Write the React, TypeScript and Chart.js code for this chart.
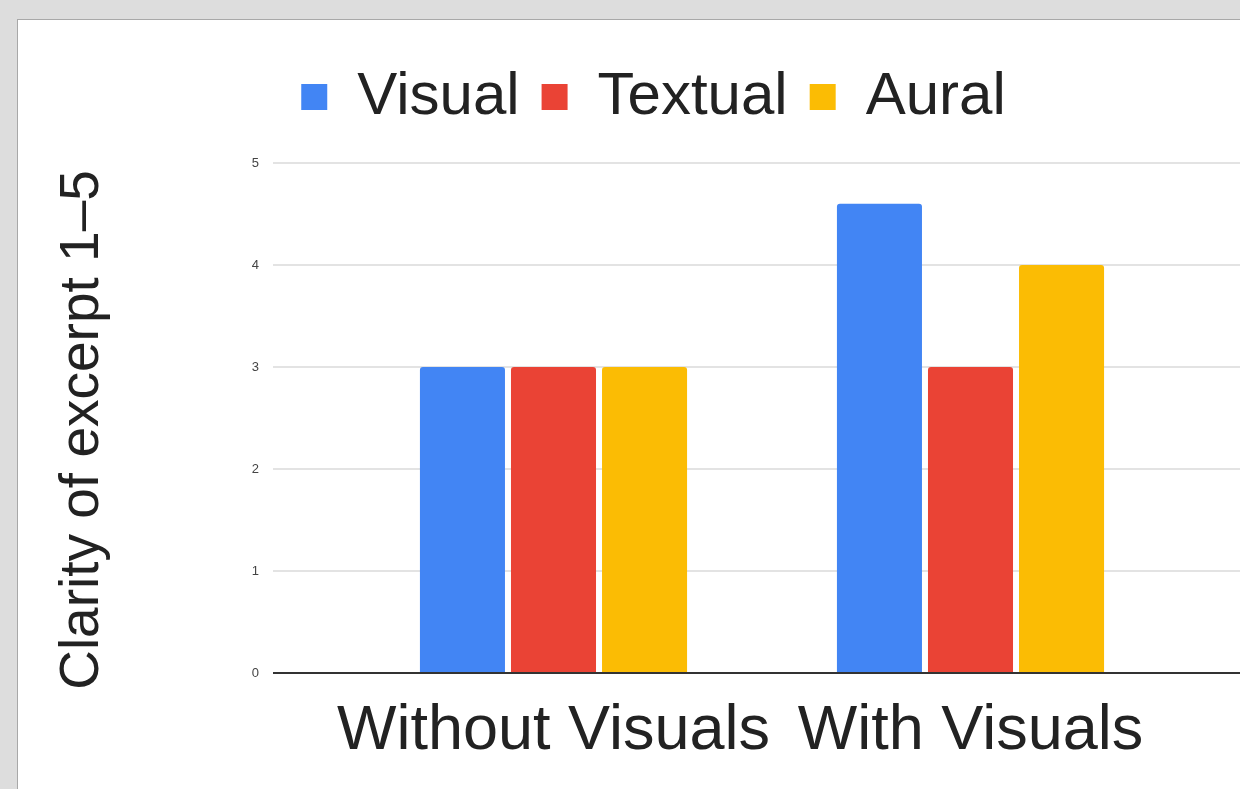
import { useEffect, useRef } from 'react';
import { Chart, registerables } from 'chart.js';

Chart.register(...registerables);

// ---- data ----
const CATEGORIES = ['Without Visuals', 'With Visuals'];
const SERIES_NAMES = ['Visual', 'Textual', 'Aural'];
const VISUAL = [3, 4.6];
const TEXTUAL = [3, 3];
const AURAL = [3, 4];
const Y_TICKS = [0, 1, 2, 3, 4, 5];
const Y_TITLE = 'Clarity of excerpt 1–5';

// ---- style / geometry ----
const COLORS = ['#4285F4', '#EA4335', '#FBBC04'];
const FONT = "'Liberation Sans', Arial, sans-serif";
const CANVAS_W = 1243;
const CANVAS_H = 769;
const AREA_LEFT = 255;
const AREA_BOTTOM = 653;
const PAD_LEFT = 28;
const PAD_TOP = 25;
const LEGEND_PAD = 22;
const LEGEND_EXTRA = 26;
const CAT0_PX = 535.5;
const CAT_STEP = 417;
const X_MIN = (AREA_LEFT - CAT0_PX) / CAT_STEP;
const X_MAX = (CANVAS_W - CAT0_PX) / CAT_STEP;
const TITLE_SHIFT = 12;

const layoutTweaks = {
  id: 'layoutTweaks',
  beforeLayout(chart: any) {
    const lg = chart.legend;
    if (lg && !lg._spaced) {
      const orig = lg.fit.bind(lg);
      lg.fit = () => {
        orig();
        lg.height += LEGEND_EXTRA;
      };
      lg._spaced = true;
    }
  },
  beforeDraw(chart: any) {
    const ys = chart.scales.y;
    if (ys && !ys._shifted) {
      const orig = ys.drawTitle.bind(ys);
      ys.drawTitle = (...args: any[]) => {
        const ctx = chart.ctx;
        ctx.save();
        ctx.translate(0, TITLE_SHIFT);
        orig(...args);
        ctx.restore();
      };
      ys._shifted = true;
    }
  },
};

export default function App() {
  const ref = useRef<HTMLCanvasElement>(null);

  useEffect(() => {
    const canvas = ref.current;
    if (!canvas) return;
    Chart.defaults.font.family = FONT;
    const series = [VISUAL, TEXTUAL, AURAL];
    const chart = new Chart(canvas, {
      type: 'bar',
      data: {
        datasets: series.map((vals, si) => ({
          label: SERIES_NAMES[si],
          data: vals.map((v, i) => ({ x: i, y: v })),
          backgroundColor: COLORS[si],
          borderWidth: 0,
          borderRadius: 3,
          categoryPercentage: 0.655,
          barPercentage: 0.934,
        })),
      },
      options: {
        animation: false,
        responsive: false,
        events: [],
        layout: { padding: { left: PAD_LEFT, top: PAD_TOP, right: 0, bottom: 0 } },
        plugins: {
          tooltip: { enabled: false },
          legend: {
            position: 'top',
            align: 'center',
            labels: {
              font: { size: 60, family: FONT },
              color: '#222222',
              boxWidth: 26,
              boxHeight: 26,
              padding: LEGEND_PAD,
            },
          },
        },
        scales: {
          x: {
            type: 'linear',
            offset: false,
            min: X_MIN,
            max: X_MAX,
            bounds: 'data',
            grid: { display: false, drawTicks: false, offset: false },
            border: { display: false },
            ticks: {
              autoSkip: false,
              maxRotation: 0,
              padding: 21,
              font: { size: 63, family: FONT },
              color: '#222222',
              callback: (v: any) => CATEGORIES[v] ?? '',
            },
            afterBuildTicks: (s: any) => {
              s.ticks = CATEGORIES.map((_, i) => ({ value: i }));
            },
            afterFit: (s: any) => {
              s.height = CANVAS_H - AREA_BOTTOM;
            },
          },
          y: {
            min: 0,
            max: 5,
            grid: {
              drawTicks: false,
              color: (c: any) => (c.tick && c.tick.value === 0 ? '#333333' : '#e3e3e3'),
              lineWidth: 2,
            },
            border: { display: false },
            ticks: {
              padding: 14,
              font: { size: 13, family: FONT },
              color: '#444444',
            },
            afterBuildTicks: (s: any) => {
              s.ticks = Y_TICKS.map((v) => ({ value: v }));
            },
            title: {
              display: true,
              text: Y_TITLE,
              font: { size: 55, family: FONT },
              color: '#222222',
              padding: { top: 4, bottom: 0 },
            },
            afterFit: (s: any) => {
              s.width = AREA_LEFT - PAD_LEFT;
            },
          },
        },
      },
      plugins: [layoutTweaks],
    } as any);
    return () => chart.destroy();
  }, []);

  return (
    <div style={{ position: 'fixed', inset: 0, background: '#dddddd', overflow: 'hidden' }}>
      <div
        style={{
          position: 'absolute',
          left: 17,
          top: 19,
          width: 1300,
          height: 820,
          background: '#ffffff',
          border: '1px solid #a8a8a8',
        }}
      >
        <canvas
          ref={ref}
          width={CANVAS_W}
          height={CANVAS_H}
          style={{ display: 'block', width: CANVAS_W, height: CANVAS_H }}
        />
      </div>
    </div>
  );
}
